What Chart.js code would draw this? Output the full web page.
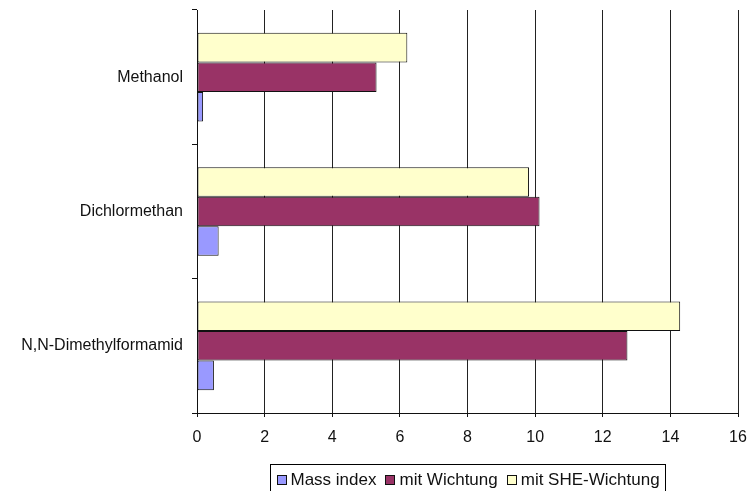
<!DOCTYPE html>
<html>
<head>
<meta charset="utf-8">
<title>Lösungsmittel – Mass index</title>
<script src="https://cdn.jsdelivr.net/npm/chart.js@4/dist/chart.umd.min.js"></script>
<style>
  html, body { margin: 0; padding: 0; background: #fff; }
  canvas { display: block; }
</style>
</head>
<body>
<canvas id="chart" width="749" height="491"></canvas>
<script>
// Solvents compared
const categories = ['Methanol', 'Dichlormethan', 'N,N-Dimethylformamid'];

// Series values per solvent
const massIndex      = [0.18, 0.64, 0.50];
const mitWichtung    = [5.31, 10.13, 12.73];
const mitSheWichtung = [6.22, 9.82, 14.29];

// Series names as shown in the legend
const seriesNames = ['Mass index', 'mit Wichtung', 'mit SHE-Wichtung'];

// Value axis ticks
const xTicks = [0, 2, 4, 6, 8, 10, 12, 14, 16];

const FONT = '"Liberation Sans", Arial, sans-serif';

// Datasets listed top-to-bottom within each group
const datasets = [
  { label: seriesNames[2], data: mitSheWichtung, backgroundColor: '#FFFFCC', legendIndex: 2 },
  { label: seriesNames[1], data: mitWichtung,    backgroundColor: '#993366', legendIndex: 1 },
  { label: seriesNames[0], data: massIndex,      backgroundColor: '#9999FF', legendIndex: 0 }
].map(d => Object.assign(d, {
  borderColor: '#111',
  borderWidth: 1,
  borderSkipped: false,
  categoryPercentage: 0.66,
  barPercentage: 1.0
}));

// Boxed legend below the plot, in series order
const boxedLegend = {
  id: 'boxedLegend',
  afterDraw(chart) {
    const ctx = chart.ctx;
    const area = chart.chartArea;
    const items = chart.data.datasets
      .slice()
      .sort((a, b) => a.legendIndex - b.legendIndex);
    ctx.save();
    ctx.font = '17px ' + FONT;
    const pad = 6, sq = 9, gapSq = 5, gapItem = 9;
    let total = pad * 2;
    const widths = items.map(it => ctx.measureText(it.label).width);
    widths.forEach((w, i) => { total += sq + gapSq + w + (i < widths.length - 1 ? gapItem : 0); });
    total = Math.round(total);
    const left = Math.round((area.left + area.right) / 2 - total / 2) + 0.5;
    const top = 464.5;
    const height = 34;
    ctx.fillStyle = '#fff';
    ctx.fillRect(left, top, total, height);
    ctx.strokeStyle = '#000';
    ctx.lineWidth = 1;
    ctx.strokeRect(left, top, total, height);
    let x = left + pad;
    const midY = 479.5;
    items.forEach((it, i) => {
      const sx = Math.round(x) + 0.5;
      const sy = Math.round(midY - sq / 2) + 0.5;
      ctx.fillStyle = it.backgroundColor;
      ctx.fillRect(sx, sy, sq, sq);
      ctx.strokeStyle = '#111';
      ctx.strokeRect(sx, sy, sq, sq);
      x += sq + gapSq;
      ctx.fillStyle = '#111';
      ctx.textBaseline = 'middle';
      ctx.textAlign = 'left';
      ctx.fillText(it.label, x, midY + 1);
      x += widths[i] + gapItem;
    });
    ctx.restore();
  }
};

new Chart(document.getElementById('chart'), {
  type: 'bar',
  data: { labels: categories, datasets },
  options: {
    indexAxis: 'y',
    responsive: false,
    animation: false,
    devicePixelRatio: 1,
    layout: { padding: { top: 10, right: 11, left: 0, bottom: 47 } },
    plugins: {
      legend: { display: false },
      tooltip: { enabled: false }
    },
    scales: {
      x: {
        min: xTicks[0],
        max: xTicks[xTicks.length - 1],
        afterBuildTicks(scale) { scale.ticks = xTicks.map(v => ({ value: v })); },
        afterFit(scale) {
          scale.height = 31;
          scale.paddingLeft = 0;
          scale.paddingRight = 0;
        },
        grid: {
          color: '#222',
          lineWidth: 1,
          drawTicks: true,
          tickLength: 4,
          tickColor: '#111'
        },
        border: { display: true, color: '#111', width: 1 },
        ticks: {
          color: '#111',
          font: { family: FONT, size: 16 },
          padding: 11,
          maxRotation: 0
        }
      },
      y: {
        afterFit(scale) {
          scale.width = 197;
          scale.paddingTop = 0;
          scale.paddingBottom = 0;
        },
        grid: {
          offset: true,
          drawOnChartArea: false,
          drawTicks: true,
          tickLength: 5,
          tickColor: '#111'
        },
        border: { display: true, color: '#111', width: 1 },
        ticks: {
          color: '#111',
          font: { family: FONT, size: 16 },
          padding: 9
        }
      }
    }
  },
  plugins: [boxedLegend]
});
</script>
</body>
</html>
